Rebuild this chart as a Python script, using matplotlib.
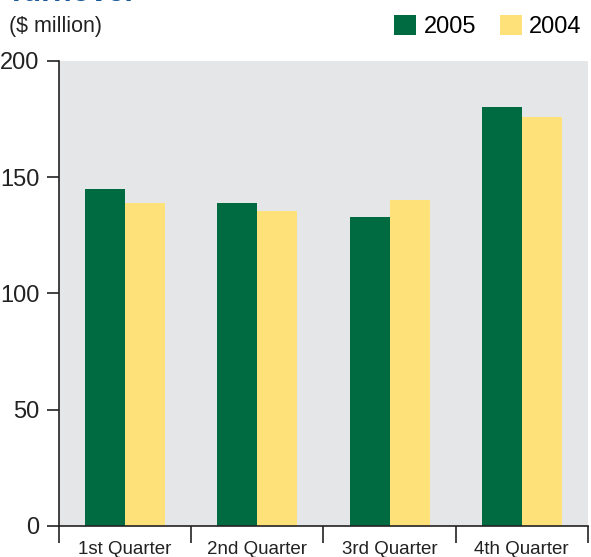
import matplotlib
matplotlib.use("Agg")
import matplotlib.pyplot as plt
import numpy as np

categories = ["1st Quarter", "2nd Quarter", "3rd Quarter", "4th Quarter"]
values_2005 = [145, 139, 133, 180]
values_2004 = [139, 135.5, 140, 176]
series_labels = ["2005", "2004"]
yticks = [0, 50, 100, 150, 200]

plt.rcParams['font.family'] = ['Liberation Sans', 'DejaVu Sans']

fig = plt.figure(figsize=(5.91, 5.57), dpi=100)
ax = fig.add_axes([0.0998, 0.0557, 0.895, 0.8348])
ax.set_facecolor("#E5E6E8")

green = "#006A40"
yellow = "#FFE17A"
w = 0.303
x = np.arange(len(categories))
ax.bar(x - w/2, values_2005, width=w, color=green, label=series_labels[0])
ax.bar(x + w/2, values_2004, width=w, color=yellow, label=series_labels[1])

ax.set_xlim(-0.5, len(categories) - 0.5)
ax.set_ylim(0, 200)
ax.set_yticks(yticks)
ax.set_yticklabels([str(v) for v in yticks], fontsize=17, color="#222222")
ax.set_xticks(x)
ax.set_xticklabels(categories, fontsize=13.5, color="#222222")
ax.tick_params(axis='x', length=0, pad=11)
ax.set_xticks(np.arange(len(categories) + 1) - 0.5, minor=True)
ax.tick_params(axis='x', which='minor', length=12, width=1.2, color="#222222")
ax.tick_params(axis='y', length=9, width=1.2, color="#222222", pad=5)

for s in ["top", "right"]:
    ax.spines[s].set_visible(False)
for s in ["left", "bottom"]:
    ax.spines[s].set_linewidth(1.2)
    ax.spines[s].set_color("#222222")

fig.text(0.015, 0.953, "($ million)", fontsize=15.5, color="#222222", va="center")
fig.text(0.012, 1.012, "Turnover", fontsize=22, color="#1C5A9A", fontweight="bold", va="center")

leg = fig.legend(loc="upper right", bbox_to_anchor=(1.01, 1.0), ncol=2, frameon=False,
                 fontsize=17, handlelength=0.95, handleheight=0.9, columnspacing=1.0,
                 handletextpad=0.3, borderaxespad=0.25)

fig.savefig("out.png", dpi=100)
